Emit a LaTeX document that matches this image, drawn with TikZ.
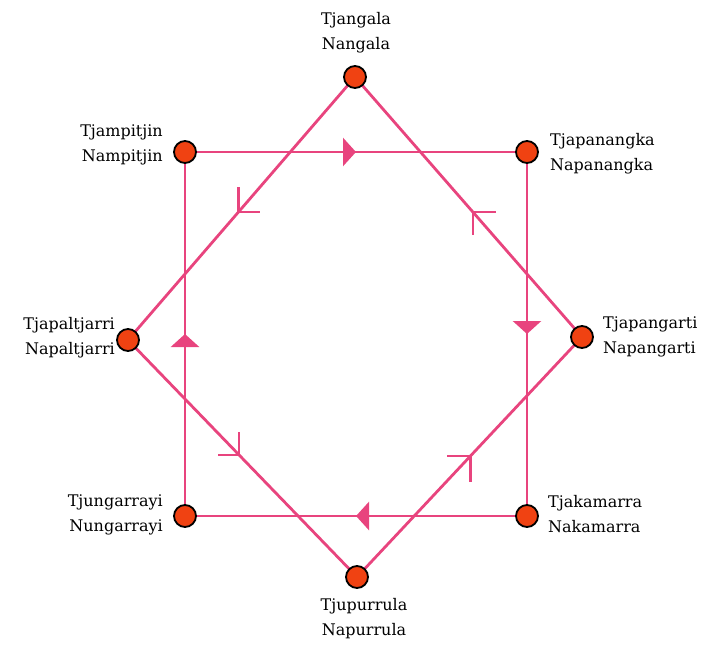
\documentclass[tikz,border=0pt]{standalone}
\usepackage{fontspec}
\setmainfont{DejaVu Serif}
\usetikzlibrary{arrows.meta,decorations.markings,calc,backgrounds}
\definecolor{edgepink}{RGB}{232,68,126}
\definecolor{dotfill}{RGB}{240,66,18}
\tikzset{
  dot/.style={circle,draw=black,line width=1.8pt,fill=dotfill,minimum size=22pt,inner sep=0pt},
  lab/.style={font=\fontsize{16}{25}\selectfont,inner sep=0pt},
  edge/.style={draw=edgepink,line width=2.8pt},
  flowmark/.style={postaction={decorate},decoration={markings,mark=at position 0.5 with {\arrow{Triangle[width=28pt,length=13pt]}}}},
  barb/.style={draw=edgepink,line width=2.2pt}
}
\begin{document}
\begin{tikzpicture}[x=1pt,y=-1pt]
\useasboundingbox (0,0) rectangle (706,645);
% dots
\node[dot] (tjangala) at (355,77) {};
\node[dot] (tjampitjin) at (185,152) {};
\node[dot] (tjapanangka) at (527,152) {};
\node[dot] (tjapaltjarri) at (128,340) {};
\node[dot] (tjapangarti) at (582,337) {};
\node[dot] (tjungarrayi) at (185,516) {};
\node[dot] (tjakamarra) at (527,516) {};
\node[dot] (tjupurrula) at (357,577) {};
% labels
\node[lab,align=center,anchor=north] (l1) at (356,12) {Tjangala\\Nangala};
\node[lab,align=right,anchor=north east] (l2) at (163,125) {Tjampitjin\\Nampitjin};
\node[lab,align=left,anchor=north west] (l3) at (550,133) {Tjapanangka\\Napanangka};
\node[lab,align=right,anchor=north east] (l4) at (115,317) {Tjapaltjarri\\Napaltjarri};
\node[lab,align=left,anchor=north west] (l5) at (603,317) {Tjapangarti\\Napangarti};
\node[lab,align=right,anchor=north east] (l6) at (163,495) {Tjungarrayi\\Nungarrayi};
\node[lab,align=left,anchor=north west] (l7) at (548,495) {Tjakamarra\\Nakamarra};
\node[lab,align=center,anchor=north] (l8) at (364,598) {Tjupurrula\\Napurrula};
\begin{scope}[on background layer]
  % square (clockwise)
  \draw[edge,flowmark] (tjampitjin.center) -- (tjapanangka.center);
  \draw[edge,flowmark] (tjapanangka.center) -- (tjakamarra.center);
  \draw[edge,flowmark] (tjakamarra.center) -- (tjungarrayi.center);
  \draw[edge,flowmark] (tjungarrayi.center) -- (tjampitjin.center);
  % diamond
  \draw[edge] (tjangala.center) -- (tjapaltjarri.center);
  \draw[edge] (tjapaltjarri.center) -- (tjupurrula.center);
  \draw[edge] (tjupurrula.center) -- (tjapangarti.center);
  \draw[edge] (tjapangarti.center) -- (tjangala.center);
  \coordinate (b1) at ($(tjangala)!0.513!(tjapaltjarri)$);
  \coordinate (b2) at ($(tjangala)!0.52!(tjapangarti)$);
  \coordinate (b3) at ($(tjapaltjarri)!0.485!(tjupurrula)$);
  \coordinate (b4) at ($(tjupurrula)!0.504!(tjapangarti)$);
  \draw[barb] (b1) -- ++(0,-25) (b1) -- ++(21,0);
  \draw[barb] (b2) -- ++(23,0) (b2) -- ++(0,23);
  \draw[barb] (b3) -- ++(0,-23) (b3) -- ++(-21,0);
  \draw[barb] (b4) -- ++(-23,0) (b4) -- ++(0,26);
\end{scope}
\end{tikzpicture}
\end{document}
